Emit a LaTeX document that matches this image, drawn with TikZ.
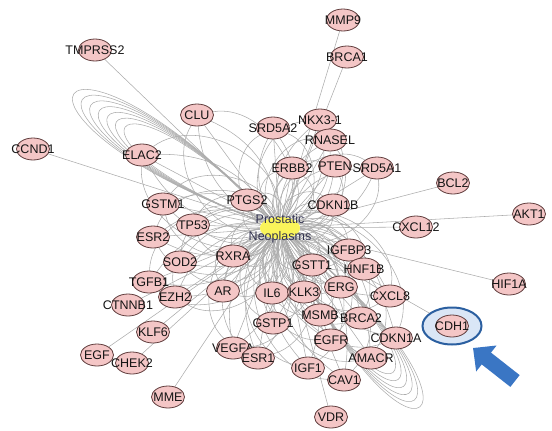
\documentclass[tikz,border=0pt]{standalone}
\usepackage{fontspec}
\setmainfont{Liberation Sans}
\usetikzlibrary{shapes,arrows.meta,backgrounds}

\definecolor{genepink}{RGB}{244,198,198}
\definecolor{generim}{RGB}{95,60,60}
\definecolor{edgegray}{RGB}{172,172,172}
\definecolor{hubyellow}{RGB}{250,244,90}
\definecolor{ringblue}{RGB}{43,95,160}
\definecolor{ringfill}{RGB}{218,230,246}
\definecolor{arrowblue}{RGB}{58,118,196}

\begin{document}
\begin{tikzpicture}[x=1pt,y=1pt,
    gene/.style={shape=ellipse,minimum width=33pt,minimum height=22pt,inner sep=0,draw=generim,line width=0.8pt,fill=genepink},
    glabel/.style={font=\fontsize{12.5}{13}\selectfont,text=black!92,inner sep=0},
    hubnode/.style={shape=ellipse,minimum width=40pt,minimum height=22pt,inner sep=0,fill=hubyellow},
    hublabel/.style={font=\fontsize{12.5}{13}\selectfont,text={rgb,255:red,50;green,50;blue,80},inner sep=0},
    ring/.style={shape=ellipse,minimum width=59pt,minimum height=37pt,inner sep=0,draw=ringblue,line width=2pt,fill=ringfill},
    edge/.style={draw=edgegray,line width=0.55pt}]
  \useasboundingbox (0,0) rectangle (552,-431);

  \node[hubnode] (hub) at (280,-228) {};
  \node[ring] (CDH1ring) at (452,-326) {};
  \foreach \n/\x/\y in {MMP9/343/20, BRCA1/347/57, TMPRSS2/95/50, NKX3-1/320/120, SRD5A2/273/128,
      RNASEL/330/140, CLU/197/115, ERBB2/292/168, PTEN/335/166, SRD5A1/377/168, PTGS2/247/200,
      CDKN1B/333/205, CCND1/33/149, ELAC2/142/155, GSTM1/163/204, TP53/193/225, ESR2/153/237,
      SOD2/180/262, RXRA/233/256, TGFB1/149/282, BCL2/453/183, AKT1/529/214, CXCL12/416/227,
      IGFBP3/349/250, GSTT1/312/265, HNF1B/364/269, HIF1A/509/284, AR/223/291, IL6/272/293,
      KLK3/304/292, ERG/341/287, CXCL8/390/296, EZH2/175/297, CTNNB1/128/305, KLF6/153/332,
      EGF/97/355, CHEK2/132/363, MME/168/397, VEGFA/233/348, ESR1/258/358, GSTP1/273/323,
      MSMB/320/315, BRCA2/361/318, EGFR/331/340, CDKN1A/396/338, AMACR/371/358, IGF1/308/368,
      CAV1/344/380, VDR/331/417, CDH1/452/326}{%
    \node[gene] (\n) at (\x,-\y) {};
    \node[glabel] at (\n) {\n};}
  \node[hublabel] (hubtop) at ([yshift=9pt]hub.center) {Prostatic};
  \node[hublabel] (hubbot) at ([yshift=-9pt]hub.center) {Neoplasms};

  \begin{scope}[on background layer]
    \foreach \n in {MMP9,BRCA1,TMPRSS2,NKX3-1,SRD5A2,RNASEL,CLU,ERBB2,PTEN,SRD5A1,PTGS2,CDKN1B,
        CCND1,ELAC2,GSTM1,TP53,ESR2,SOD2,RXRA,TGFB1,BCL2,AKT1,CXCL12,IGFBP3,GSTT1,HNF1B,HIF1A,
        AR,IL6,KLK3,ERG,CXCL8,EZH2,CTNNB1,KLF6,EGF,CHEK2,MME,VEGFA,ESR1,GSTP1,MSMB,BRCA2,EGFR,
        CDKN1A,AMACR,IGF1,CAV1,VDR,CDH1}
      \draw[edge] (hub) -- (\n);
    % multi-edges round the hub
    \foreach \n in {CLU,SRD5A2,NKX3-1,RNASEL,ERBB2,PTEN,SRD5A1,PTGS2,CDKN1B,ELAC2,GSTM1,TP53,
        ESR2,SOD2,RXRA,TGFB1,IGFBP3,GSTT1,HNF1B,AR,IL6,KLK3,ERG,CXCL8,EZH2,VEGFA,ESR1,GSTP1,
        MSMB,BRCA2,EGFR,CDKN1A,AMACR,IGF1,CAV1}{%
      \draw[edge] (hub) to[bend left=30] (\n);
      \draw[edge] (hub) to[bend right=30] (\n);
      \draw[edge] (hub) to[bend left=65] (\n);
      \draw[edge] (hub) to[bend right=65] (\n);}
    \foreach \a in {338,324,310,296,282,268,254}{%
      \pgfmathsetmacro\outang{147+14}
      \pgfmathsetmacro\inang{147-14}
      \draw[edge] (hub.center) to[out=\outang,in=\inang,distance=\a pt] (hub.center);}
    \foreach \a in {312,300,288,276,264,252}{%
      \pgfmathsetmacro\outang{-52+14}
      \pgfmathsetmacro\inang{-52-14}
      \draw[edge] (hub.center) to[out=\outang,in=\inang,distance=\a pt] (hub.center);}
  \end{scope}

  \coordinate (arrowtail) at (515,-381);
  \coordinate (arrowtip) at (473,-348);
  \draw[arrowblue,line width=15pt,-{Triangle[length=17pt,width=32pt]}] (arrowtail) -- (arrowtip);
\end{tikzpicture}
\end{document}
